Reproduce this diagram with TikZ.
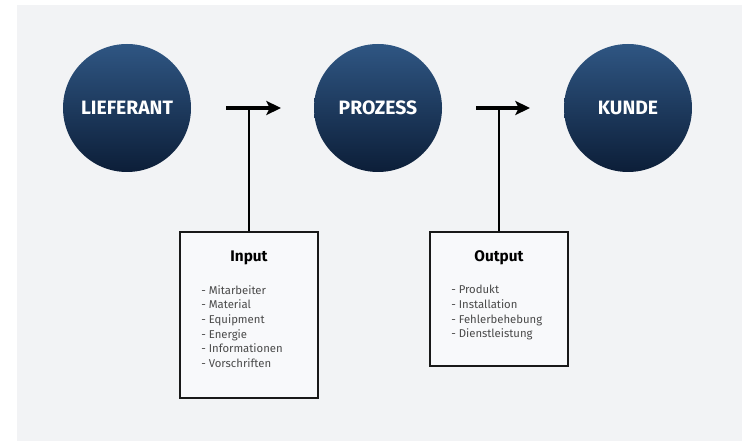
\documentclass[tikz,border=0pt]{standalone}
\usepackage{fontspec}
\setmainfont{Fira Sans}
\usepackage{tikz}
\usetikzlibrary{arrows.meta}
\definecolor{panelgray}{HTML}{F2F3F5}
\definecolor{circtop}{HTML}{2F5683}
\definecolor{circbot}{HTML}{0C1E38}
\definecolor{boxfill}{HTML}{F8F9FB}
\definecolor{itemgray}{HTML}{4A4A4A}
\tikzstyle{stage} = [circle, minimum size=96pt, inner sep=0pt, top color=circtop, bottom color=circbot, text=white, font=\fontsize{14.5}{16}\selectfont\bfseries]
\tikzstyle{listbox} = [draw=black!90, line width=1.7pt, fill=boxfill, rectangle, inner sep=0pt]
\tikzstyle{arrow} = [line width=2.6pt, -{Stealth[length=11pt, width=10.5pt, inset=2.5pt]}]
\tikzstyle{stem} = [line width=1.6pt]

\begin{document}
\begin{tikzpicture}[x=0.75pt, y=-0.75pt]
	\useasboundingbox (0,0) rectangle (742,441);
	\fill[white] (0,0) rectangle (742,441);
	\fill[panelgray] (17,5) rectangle (742,441);

	% Stationen
	\node[stage] (lieferant) at (127,108) {LIEFERANT};
	\node[stage] (prozess) at (378,108) {PROZESS};
	\node[stage] (kunde) at (628,108) {KUNDE};

	% Kaesten
	\node[listbox, minimum width=103.5pt, minimum height=124.5pt, anchor=north] (input) at (249,231) {};
	\node[listbox, minimum width=103.5pt, minimum height=100.5pt, anchor=north] (output) at (499,231) {};
	\node[font=\fontsize{11.5}{13}\selectfont\bfseries] (input-title) at (249,258) {Input};
	\node[font=\fontsize{11.5}{13}\selectfont\bfseries] (output-title) at (499,258) {Output};
	\node[anchor=north west, align=left, inner sep=0pt, text=itemgray, font=\fontsize{8.5}{11}\selectfont] (input-list) at (201,285) {- Mitarbeiter\\- Material\\- Equipment\\- Energie\\- Informationen\\- Vorschriften};
	\node[anchor=north west, align=left, inner sep=0pt, text=itemgray, font=\fontsize{8.5}{11}\selectfont] (output-list) at (451,285) {- Produkt\\- Installation\\- Fehlerbehebung\\- Dienstleistung};

	% Pfeile
	\coordinate (in-start) at (226,108);
	\coordinate (in-end) at (281,108);
	\coordinate (in-join) at (249,108);
	\coordinate (out-start) at (476,108);
	\coordinate (out-end) at (530,108);
	\coordinate (out-join) at (499,108);
	\draw[arrow] (in-start) -- (in-end);
	\draw[arrow] (out-start) -- (out-end);
	\draw[stem] (input.north) -- (in-join);
	\draw[stem] (output.north) -- (out-join);
\end{tikzpicture}
\end{document}
